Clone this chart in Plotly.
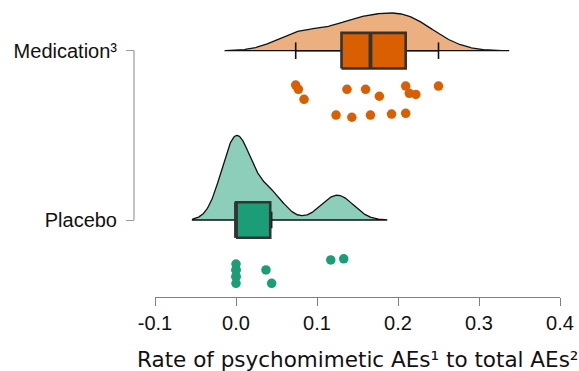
import numpy as np
import plotly.graph_objects as go

# ---------------- data ----------------
groups = ["Placebo", "Medication³"]
placebo_vals = [0.0, 0.0, 0.0, 0.0, 0.0, 0.0, 0.037, 0.044, 0.117, 0.133]
placebo_jitter = [-0.260, -0.295, -0.335, -0.374, -0.295, -0.335, -0.295, -0.374, -0.236, -0.229]
med_vals = [0.0737, 0.077, 0.084, 0.137, 0.160, 0.177, 0.2095, 0.214, 0.222, 0.250,
            0.1235, 0.143, 0.166, 0.192, 0.2095]
med_jitter = [-0.203, -0.228, -0.287, -0.228, -0.228, -0.269, -0.209, -0.252, -0.258, -0.209,
              -0.380, -0.393, -0.380, -0.374, -0.370]
x_ticks = [-0.1, 0.0, 0.1, 0.2, 0.3, 0.4]
x_tick_labels = ["-0.1", "0.0", "0.1", "0.2", "0.3", "0.4"]
x_title = "Rate of psychomimetic AEs¹ to total AEs²"

# ---------------- styles ----------------
dark_cols = {"Placebo": "#1B9E77", "Medication³": "#D95F02"}
light_cols = {"Placebo": "#8DCEBB", "Medication³": "#ECAF80"}
values = {"Placebo": placebo_vals, "Medication³": med_vals}
jitters = {"Placebo": placebo_jitter, "Medication³": med_jitter}
positions = {"Placebo": 0, "Medication³": 1}
BOX_W = 0.21
CAP = 0.049
DENS_H = 0.5
FONT = "Liberation Sans, Arial, sans-serif"
TITLE_FONT = "DejaVu Sans, Liberation Sans, sans-serif"


def nrd0(x):
    x = np.asarray(x, float)
    sd = np.std(x, ddof=1)
    iqr = np.subtract(*np.percentile(x, [75, 25]))
    lo = min(sd, iqr / 1.34) if iqr > 0 else sd
    return 0.9 * lo * len(x) ** -0.2


def kde(x):
    x = np.asarray(x, float)
    bw = nrd0(x)
    grid = np.linspace(x.min() - 3 * bw, x.max() + 3 * bw, 512)
    d = np.exp(-0.5 * ((grid[:, None] - x[None, :]) / bw) ** 2).sum(1)
    d /= len(x) * bw * np.sqrt(2 * np.pi)
    return grid, d


dens = {g: kde(values[g]) for g in groups}
dmax = max(d.max() for _, d in dens.values())

fig = go.Figure()

for g in groups:
    pos = positions[g]
    grid, d = dens[g]
    h = DENS_H * d / dmax
    fig.add_trace(go.Scatter(
        x=np.concatenate([grid, grid[::-1], grid[:1]]),
        y=np.concatenate([pos + h, np.full(len(grid), pos), [pos + h[0]]]),
        fill="toself", fillcolor=light_cols[g], mode="lines",
        line=dict(color="#111111", width=1.3), hoverinfo="skip"))

for g in groups:
    pos = positions[g]
    v = np.asarray(values[g])
    q1, med, q3 = np.percentile(v, [25, 50, 75])
    iqr = q3 - q1
    lo = v[v >= q1 - 1.5 * iqr].min()
    hi = v[v <= q3 + 1.5 * iqr].max()
    b0, b1 = pos - BOX_W / 2, pos + BOX_W / 2
    # whiskers
    fig.add_trace(go.Scatter(
        x=[lo, q1, None, q3, hi, None, lo, lo, None, hi, hi],
        y=[pos, pos, None, pos, pos, None, pos - CAP, pos + CAP, None, pos - CAP, pos + CAP],
        mode="lines", line=dict(color="#111111", width=1.6), hoverinfo="skip"))
    # box
    fig.add_trace(go.Scatter(
        x=[q1, q3, q3, q1, q1], y=[b0, b0, b1, b1, b0],
        fill="toself", fillcolor=dark_cols[g], mode="lines",
        line=dict(color="#333333", width=2.6), hoverinfo="skip"))
    # median
    fig.add_trace(go.Scatter(
        x=[med, med], y=[b0, b1], mode="lines",
        line=dict(color="#333333", width=3.8), hoverinfo="skip"))
    # points
    fig.add_trace(go.Scatter(
        x=values[g], y=[pos + j for j in jitters[g]], mode="markers",
        marker=dict(color=dark_cols[g], size=9.5, line=dict(width=0)), hoverinfo="skip"))

L, R = 100, 19
pw = 579 - L - R
x_dom0 = (155 - L) / pw
y_pos = (134 - L) / pw

fig.add_shape(type="line", xref="paper", yref="y", x0=y_pos, x1=y_pos, y0=0, y1=1,
              line=dict(color="#9a9a9a", width=1.2))

fig.add_annotation(text=x_title, xref="paper", yref="paper", x=(x_dom0 + 1) / 2, y=0,
                   xanchor="center", yanchor="middle", yshift=-62, showarrow=False,
                   font=dict(size=21.5, family=TITLE_FONT, color="#111111"))

fig.update_layout(
    width=579, height=371,
    margin=dict(l=L, r=R, t=10, b=74),
    plot_bgcolor="white", paper_bgcolor="white",
    showlegend=False,
    font=dict(family=FONT, color="#111111"),
    xaxis=dict(domain=[x_dom0, 1], range=[-0.1, 0.4], tickvals=x_ticks, ticktext=x_tick_labels,
               showline=True, linecolor="#808080", linewidth=1.2, ticks="outside", ticklen=8,
               tickcolor="#808080", tickwidth=1.2, showgrid=False, zeroline=False,
               automargin=False,
               tickfont=dict(size=20, family=FONT, color="#111111")),
    yaxis=dict(range=[-0.4548, 1.2404], anchor="free", position=y_pos,
               tickvals=[positions[g] for g in groups], ticktext=groups,
               ticks="outside", ticklen=8, tickcolor="#9a9a9a", tickwidth=1.2,
               ticklabelstandoff=5,
               showline=False, showgrid=False, zeroline=False, automargin=False,
               tickfont=dict(size=20, family=FONT, color="#111111")),
)

fig.write_html("out.html", config={"displayModeBar": False},
               post_script="document.body.style.margin='0px';")
